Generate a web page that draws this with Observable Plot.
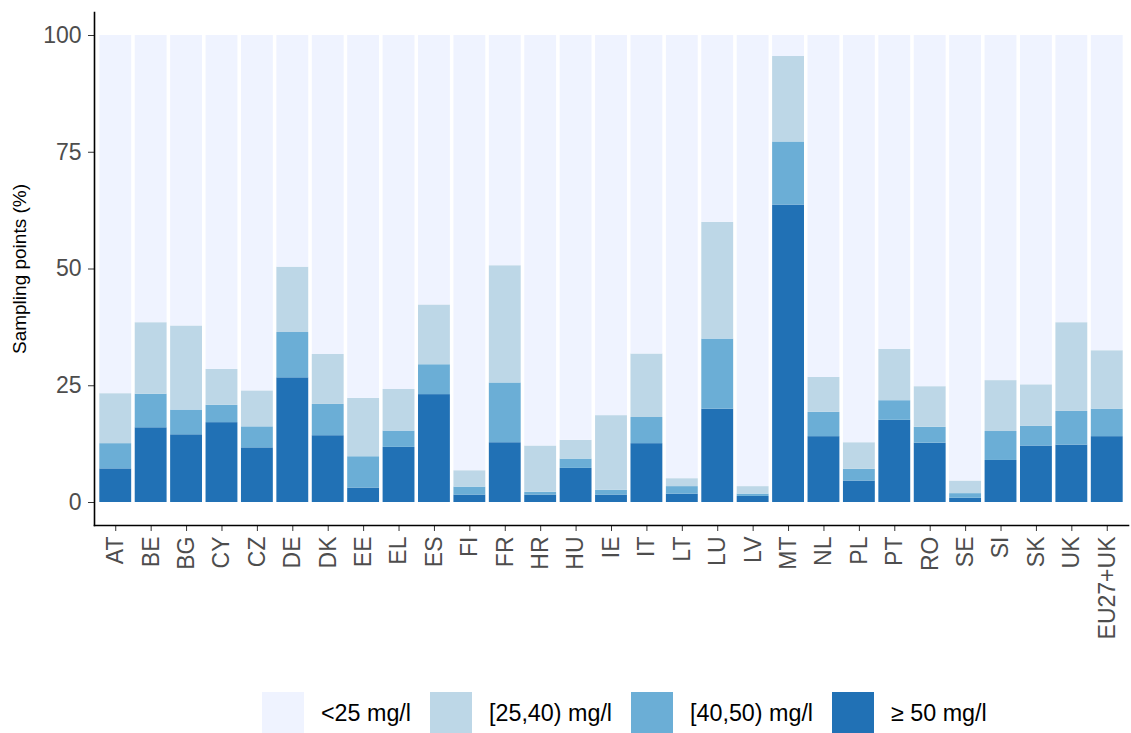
<!DOCTYPE html>
<html>
<head>
<meta charset="utf-8">
<script src="https://cdn.jsdelivr.net/npm/d3@7"></script>
<script src="https://cdn.jsdelivr.net/npm/@observablehq/plot@0.6"></script>
<style>
  html, body { margin: 0; padding: 0; background: #fff; }
  body { width: 1131px; height: 733px; position: relative; overflow: hidden; font-family: "Liberation Sans", Arial, sans-serif; }
  #chart { position: absolute; left: 0; top: 0; }
  #legend { position: absolute; left: 262px; top: 692px; display: flex; align-items: center; font-size: 23.3px; color: #000; }
  .item { display: flex; align-items: center; margin-right: 19px; }
  .sw { width: 42px; height: 42px; margin-right: 17px; }
</style>
</head>
<body>
<div id="chart"></div>
<div id="legend"></div>
<script>
const countries = ["AT","BE","BG","CY","CZ","DE","DK","EE","EL","ES","FI","FR","HR","HU","IE","IT","LT","LU","LV","MT","NL","PL","PT","RO","SE","SI","SK","UK","EU27+UK"];
// share of sampling points per class (%)
const ge50   = [7.2,16.0,14.5,17.1,11.7,26.7,14.3,3.1,11.8,23.1,1.6,12.8,1.6,7.3,1.6,12.6,1.8,20.0,1.3,63.7,14.1,4.6,17.6,12.7,0.9,9.0,12.1,12.3,14.1];
const b40_50 = [5.4,7.2,5.3,3.7,4.5,9.7,6.7,6.7,3.5,6.4,1.7,12.8,0.6,2.0,1.0,5.6,1.6,15.0,0.5,13.5,5.2,2.5,4.2,3.4,1.0,6.2,4.2,7.2,5.9];
const b25_40 = [10.7,15.3,18.0,7.7,7.7,14.0,10.7,12.5,8.9,12.8,3.5,25.1,9.9,4.0,16.0,13.6,1.7,25.0,1.6,18.3,7.5,5.7,11.0,8.7,2.7,10.9,8.9,19.0,12.5];
const lt25   = [76.7,61.5,62.2,71.5,76.1,49.6,68.3,77.7,75.8,57.7,93.2,49.3,87.9,86.7,81.4,68.2,94.9,40.0,96.6,4.5,73.2,87.2,67.2,75.2,95.4,73.9,74.8,61.5,67.5];
const classes = ["≥ 50 mg/l", "[40,50) mg/l", "[25,40) mg/l", "<25 mg/l"];
const colors  = ["#2171B5", "#6BAED6", "#BDD7E7", "#EFF3FF"];
const series  = [ge50, b40_50, b25_40, lt25];

const rows = [];
series.forEach((vals, k) => {
  countries.forEach((c, i) => rows.push({country: c, cls: classes[k], value: vals[i]}));
});

const plot = Plot.plot({
  width: 1131,
  height: 680,
  marginLeft: 94,
  marginRight: 3,
  marginTop: 12,
  marginBottom: 155,
  insetTop: 23,
  insetBottom: 23,
  style: {fontFamily: "'Liberation Sans', Arial, sans-serif", background: "#fff"},
  x: {domain: countries, paddingInner: 0.1, paddingOuter: 0.15, align: 0.5, round: false},
  y: {domain: [0, 100]},
  color: {domain: classes, range: colors},
  marks: [
    Plot.barY(rows, {x: "country", y: "value", fill: "cls", order: classes}),
    Plot.axisY({ticks: [0, 25, 50, 75, 100], tickSize: 6, tickPadding: 7, fontSize: 23, color: "#4D4D4D", stroke: "#333",
      label: "Sampling points (%)", labelAnchor: "center", labelArrow: "none", labelOffset: 82}),
    Plot.axisX({tickRotate: -90, tickSize: 6, tickPadding: 5, fontSize: 23, color: "#4D4D4D", stroke: "#333", label: null}),
    Plot.frame({anchor: "left", stroke: "#000", strokeWidth: 1.6}),
    Plot.frame({anchor: "bottom", stroke: "#000", strokeWidth: 1.6})
  ]
});
// axis title style: black, smaller
plot.querySelectorAll("g[aria-label='y-axis label'] text").forEach(t => { t.setAttribute("font-size", "19"); t.setAttribute("fill", "#000"); });
document.getElementById("chart").appendChild(plot);

const legendOrder = [3, 2, 1, 0];
const leg = document.getElementById("legend");
legendOrder.forEach(k => {
  const it = document.createElement("div");
  it.className = "item";
  const sw = document.createElement("div");
  sw.className = "sw";
  sw.style.background = colors[k];
  const tx = document.createElement("span");
  tx.textContent = classes[k];
  it.appendChild(sw); it.appendChild(tx);
  leg.appendChild(it);
});
</script>
</body>
</html>
